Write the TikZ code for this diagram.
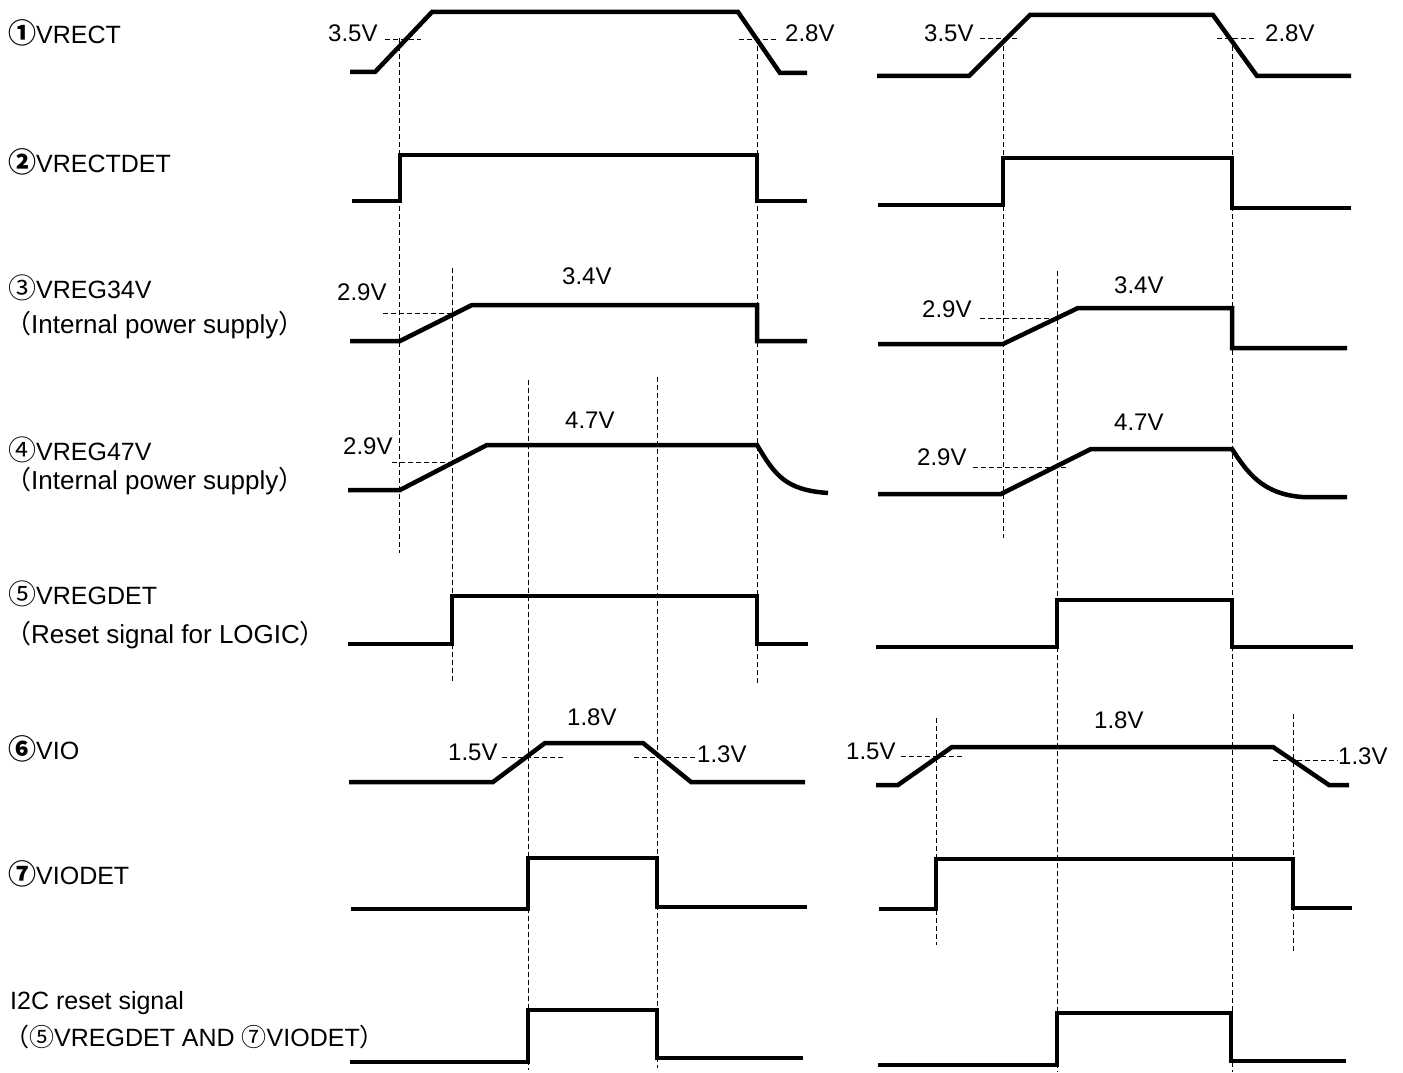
\documentclass[tikz,border=0pt]{standalone}
\usepackage{fontspec}
\setmainfont{Liberation Sans}
\newfontfamily\cjkfont{Noto Sans CJK JP}
\newcommand\circN[1]{{\cjkfont\fontsize{28}{30}\selectfont #1}}
\newcommand\circB[1]{{\cjkfont\bfseries\fontsize{28}{30}\selectfont #1}}
\newcommand\circS[1]{{\cjkfont #1}}
\newcommand\fwp[1]{{\cjkfont #1}}
\begin{document}
\begin{tikzpicture}[x=1pt,y=-1pt,
  sig/.style={line width=4.5pt, line join=miter},
  guide/.style={line width=0.9pt, dash pattern=on 5pt off 3pt},
  lbl/.style={anchor=base west, inner sep=0pt, font=\fontsize{25}{30}\selectfont},
  sub/.style={anchor=base west, inner sep=0pt, font=\fontsize{26}{30}\selectfont},
  val/.style={anchor=base west, inner sep=0pt, font=\fontsize{24}{29}\selectfont}]
\useasboundingbox (0,0) rectangle (1403,1073);

% ---------- row labels ----------
\node[lbl] (l1) at (8,44) {\circB{①}VRECT};
\node[lbl] (l2) at (8,172) {\circB{②}VRECTDET};
\node[lbl] (l3) at (8,298) {\circN{③}VREG34V};
\node[sub] (l3b) at (5,333) {\fwp{（}Internal power supply\fwp{）}};
\node[lbl] (l4) at (8,460) {\circN{④}VREG47V};
\node[sub] (l4b) at (5,489) {\fwp{（}Internal power supply\fwp{）}};
\node[lbl] (l5) at (8,604) {\circN{⑤}VREGDET};
\node[sub] (l5b) at (5,643) {\fwp{（}Reset signal for LOGIC\fwp{）}};
\node[lbl] (l6) at (8,759) {\circB{⑥}VIO};
\node[lbl] (l7) at (8,884) {\circB{⑦}VIODET};
\node[lbl] (l8) at (10,1009) {I2C reset signal};
\node[lbl] (l8b) at (4,1046) {\fwp{（}\circS{⑤}VREGDET AND \circS{⑦}VIODET\fwp{）}};

% ---------- left guides ----------
\draw[guide] (399,38) -- (399,553);
\draw[guide] (757,38) -- (757,685);
\draw[guide] (452,268) -- (452,683);
\draw[guide] (528,380) -- (528,1070);
\draw[guide] (657,377) -- (657,1068);
\draw[guide] (385,39) -- (421,39);
\draw[guide] (739,39) -- (777,39);
\draw[guide] (383,313) -- (460,313);
\draw[guide] (392,462) -- (455,462);
\draw[guide] (502,757) -- (563,757);
\draw[guide] (634,757) -- (697,757);

% ---------- right guides ----------
\draw[guide] (1003,38) -- (1003,538);
\draw[guide] (1232,38) -- (1232,1072);
\draw[guide] (1057,271) -- (1057,1072);
\draw[guide] (936,718) -- (936,945);
\draw[guide] (1293,714) -- (1293,951);
\draw[guide] (980,38) -- (1018,38);
\draw[guide] (1217,38) -- (1254,38);
\draw[guide] (980,318) -- (1057,318);
\draw[guide] (973,467) -- (1067,467);
\draw[guide] (901,756) -- (965,756);
\draw[guide] (1273,760) -- (1338,760);

% ---------- left signals ----------
\draw[sig] (350,72) -- (375,72) -- (432,12) -- (738,12) -- (780,73) -- (807,73);
\draw[sig] (352,201) -- (400,201) -- (400,155) -- (757,155) -- (757,201) -- (807,201);
\draw[sig] (350,341) -- (400,341) -- (472,305) -- (757,305) -- (757,341) -- (807,341);
\draw[sig] (348,490) -- (400,490) -- (487,445) -- (757,445) .. controls (775,475) and (785,490) .. (828,493);
\draw[sig] (348,644) -- (452,644) -- (452,596) -- (757,596) -- (757,644) -- (808,644);
\draw[sig] (349,782) -- (493,782) -- (545,743) -- (643,743) -- (691,782) -- (805,782);
\draw[sig] (351,909) -- (528,909) -- (528,858) -- (657,858) -- (657,907) -- (807,907);
\draw[sig] (350,1062) -- (528,1062) -- (528,1010) -- (657,1010) -- (657,1058) -- (803,1058);

% ---------- right signals ----------
\draw[sig] (877,76) -- (969,76) -- (1030,15) -- (1213,15) -- (1257,76) -- (1351,76);
\draw[sig] (878,205) -- (1003,205) -- (1003,158) -- (1232,158) -- (1232,208) -- (1351,208);
\draw[sig] (878,344) -- (1003,344) -- (1078,308) -- (1232,308) -- (1232,348) -- (1347,348);
\draw[sig] (878,494) -- (1001,494) -- (1091,449) -- (1232,449) .. controls (1247,472) and (1262,494) .. (1302,497) -- (1347,497);
\draw[sig] (876,647) -- (1057,647) -- (1057,600) -- (1232,600) -- (1232,647) -- (1353,647);
\draw[sig] (876,785) -- (898,785) -- (952,747) -- (1273,747) -- (1329,785) -- (1349,785);
\draw[sig] (879,909) -- (936,909) -- (936,859) -- (1293,859) -- (1293,908) -- (1352,908);
\draw[sig] (878,1065) -- (1057,1065) -- (1057,1013) -- (1231,1013) -- (1231,1061) -- (1346,1061);

% ---------- value labels ----------
\node[val] (v1) at (328,42) {3.5V};
\node[val] (v2) at (785,42) {2.8V};
\node[val] (v3) at (924,42) {3.5V};
\node[val] (v4) at (1265,42) {2.8V};
\node[val] (v5) at (337,300) {2.9V};
\node[val] (v6) at (562,284) {3.4V};
\node[val] (v7) at (343,454) {2.9V};
\node[val] (v8) at (565,428) {4.7V};
\node[val] (v9) at (922,317) {2.9V};
\node[val] (v10) at (1114,293) {3.4V};
\node[val] (v11) at (917,465) {2.9V};
\node[val] (v12) at (1114,430) {4.7V};
\node[val] (v13) at (567,725) {1.8V};
\node[val] (v14) at (448,760) {1.5V};
\node[val] (v15) at (697,762) {1.3V};
\node[val] (v16) at (1094,728) {1.8V};
\node[val] (v17) at (846,759) {1.5V};
\node[val] (v18) at (1338,764) {1.3V};
\end{tikzpicture}
\end{document}
